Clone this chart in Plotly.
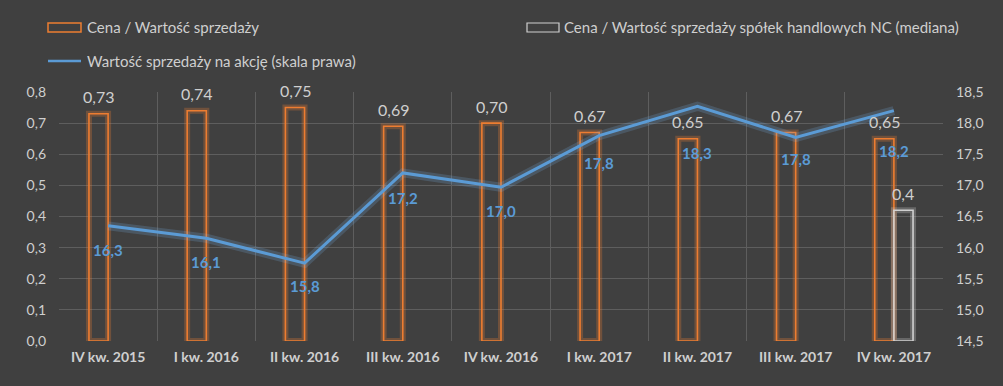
import plotly.graph_objects as go

categories = ["IV kw. 2015", "I kw. 2016", "II kw. 2016", "III kw. 2016", "IV kw. 2016",
              "I kw. 2017", "II kw. 2017", "III kw. 2017", "IV kw. 2017"]
price_sales = [0.73, 0.74, 0.75, 0.69, 0.70, 0.67, 0.65, 0.67, 0.65]
price_sales_labels = ["0,73", "0,74", "0,75", "0,69", "0,70", "0,67", "0,65", "0,67", "0,65"]
median_nc = [None, None, None, None, None, None, None, None, 0.42]
median_nc_labels = ["", "", "", "", "", "", "", "", "0,4"]
sales_per_share = [16.35, 16.15, 15.75, 17.2, 16.97, 17.8, 18.27, 17.77, 18.2]
sales_per_share_labels = ["16,3", "16,1", "15,8", "17,2", "17,0", "17,8", "18,3", "17,8", "18,2"]
left_ticks = [0.0, 0.1, 0.2, 0.3, 0.4, 0.5, 0.6, 0.7, 0.8]
right_ticks = [14.5, 15.0, 15.5, 16.0, 16.5, 17.0, 17.5, 18.0, 18.5]

# label placement (pixel offsets below the line points)
line_label_shift = [-24, -24, -23, -25, -24, -27, -47, -22, -40]

W, H = 1003, 386
L, R, T, B = 59, 60, 92, 45
PW, PH = W - L - R, H - T - B

BG = "#404040"
ORANGE = "#ED7D31"
BLUE = "#5B9BD5"
WHITE_BAR = "#D0D0D0"
TXT = "#CFCFCF"
GRID = "#5E5E5E"
FONT = "Lato"

BW = 0.195

fig = go.Figure()

fig.add_trace(go.Bar(x=categories, y=price_sales, width=BW, offset=-BW,
                     marker=dict(color="rgba(0,0,0,0)", line=dict(color="rgba(237,125,49,0.28)", width=6)),
                     showlegend=False, hoverinfo="skip"))
fig.add_trace(go.Bar(x=categories, y=price_sales, width=BW, offset=-BW, name="Cena / Wartość sprzedaży",
                     marker=dict(color="rgba(0,0,0,0)", line=dict(color=ORANGE, width=1.6)),
                     showlegend=False))
fig.add_trace(go.Bar(x=categories, y=median_nc, width=BW, offset=0,
                     marker=dict(color="rgba(0,0,0,0)", line=dict(color="rgba(220,220,220,0.25)", width=6)),
                     showlegend=False, hoverinfo="skip"))
fig.add_trace(go.Bar(x=categories, y=median_nc, width=BW, offset=0,
                     name="Cena / Wartość sprzedaży spółek handlowych NC (mediana)",
                     marker=dict(color="rgba(0,0,0,0)", line=dict(color=WHITE_BAR, width=1.6)),
                     showlegend=False))
fig.add_trace(go.Scatter(x=categories, y=sales_per_share, yaxis="y2", mode="lines",
                         line=dict(color="rgba(120,180,235,0.20)", width=9),
                         showlegend=False, hoverinfo="skip"))
fig.add_trace(go.Scatter(x=categories, y=sales_per_share, yaxis="y2", mode="lines",
                         name="Wartość sprzedaży na akcję (skala prawa)",
                         line=dict(color=BLUE, width=3), showlegend=False))

annotations = []
for c, v, t in zip(categories, price_sales, price_sales_labels):
    annotations.append(dict(x=c, y=v, xref="x", yref="y", text=t, showarrow=False,
                            xshift=-9.5, yshift=17, font=dict(family=FONT, size=16, color=TXT)))
for c, v, t in zip(categories, median_nc, median_nc_labels):
    if v is not None:
        annotations.append(dict(x=c, y=v, xref="x", yref="y", text=t, showarrow=False,
                                xshift=9.5, yshift=17, font=dict(family=FONT, size=16, color=TXT)))
for c, v, t, s in zip(categories, sales_per_share, sales_per_share_labels, line_label_shift):
    annotations.append(dict(x=c, y=v, xref="x", yref="y2", text="<b>" + t + "</b>", showarrow=False,
                            yshift=s, font=dict(family=FONT, size=15, color=BLUE)))


def px(xp):
    return (xp - L) / PW


def py(yp):
    return (H - B - yp) / PH


shapes = [
    dict(type="rect", xref="paper", yref="paper", x0=px(48), x1=px(81), y0=py(32), y1=py(23),
         line=dict(color=ORANGE, width=1.5), fillcolor="rgba(0,0,0,0)"),
    dict(type="rect", xref="paper", yref="paper", x0=px(527), x1=px(559), y0=py(32), y1=py(23),
         line=dict(color=WHITE_BAR, width=1.2), fillcolor="rgba(0,0,0,0)"),
    dict(type="line", xref="paper", yref="paper", x0=px(48), x1=px(81), y0=py(61), y1=py(61),
         line=dict(color=BLUE, width=2.5)),
]
legend_texts = [
    (85, 27, "Cena / Wartość sprzedaży"),
    (562, 27, "Cena / Wartość sprzedaży spółek handlowych NC (mediana)"),
    (85, 61, "Wartość sprzedaży na akcję (skala prawa)"),
]
for x0, y0, t in legend_texts:
    annotations.append(dict(x=px(x0), y=py(y0), xref="paper", yref="paper", text=t, showarrow=False,
                            xanchor="left", yanchor="middle",
                            font=dict(family=FONT, size=15, color=TXT)))

fig.update_layout(
    width=W, height=H,
    margin=dict(l=L, r=R, t=T, b=B),
    paper_bgcolor=BG, plot_bgcolor=BG,
    barmode="overlay",
    separators=", ",
    font=dict(family=FONT, color=TXT),
    showlegend=False,
    annotations=annotations,
    shapes=shapes,
    xaxis=dict(type="category", tickson="boundaries", showgrid=True, gridcolor=GRID, gridwidth=1,
               ticks="", showline=False, zeroline=False,
               tickvals=categories, ticktext=["<b>" + c + "</b>" for c in categories],
               tickfont=dict(family=FONT, size=14, color=TXT), ticklabelstandoff=6),
    yaxis=dict(range=[0, 0.8], tickvals=left_ticks, tickformat=".1f", showgrid=True,
               gridcolor=GRID, gridwidth=1, zeroline=False, showline=False, ticks="",
               tickfont=dict(family=FONT, size=14, color=TXT), ticklabelstandoff=12),
    yaxis2=dict(range=[14.5, 18.5], tickvals=right_ticks, tickformat=".1f", overlaying="y",
                side="right", showgrid=False, zeroline=False, showline=False, ticks="",
                tickfont=dict(family=FONT, size=14, color=TXT), ticklabelstandoff=12),
)

fig.write_html("out.html", config={"displayModeBar": False},
               post_script="document.body.style.margin='0';document.body.style.background='#404040';")
